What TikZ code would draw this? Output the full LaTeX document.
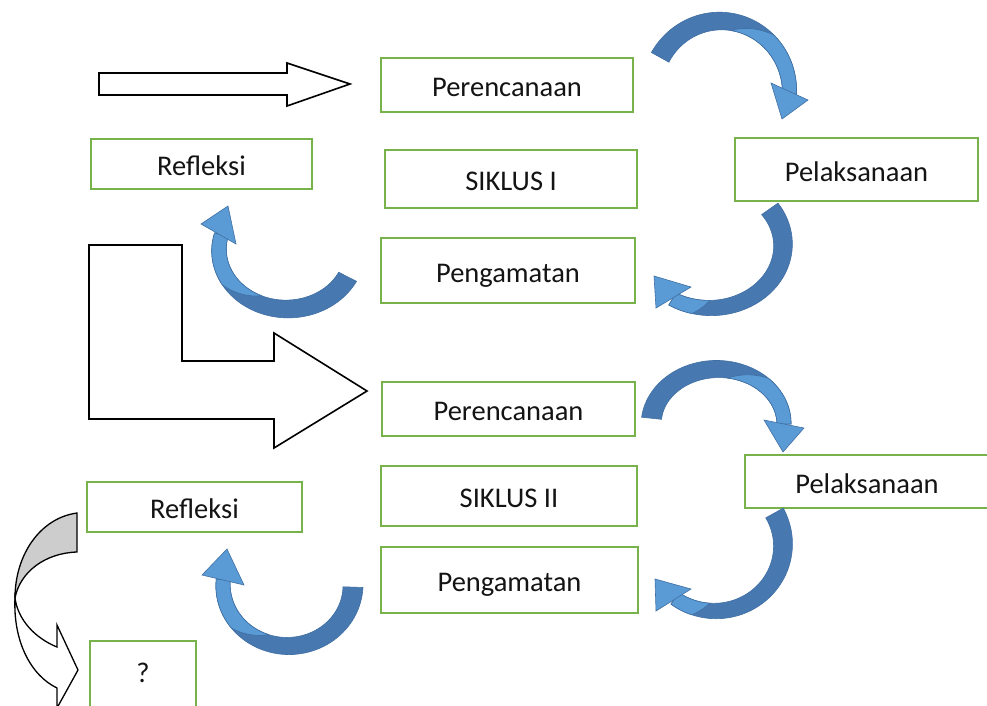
\documentclass[tikz,border=0pt]{standalone}
\usepackage{fontspec}
\setmainfont{Carlito}
\definecolor{boxgreen}{HTML}{77B24B}
\definecolor{armdark}{HTML}{4878B0}
\definecolor{armlight}{HTML}{5B9BD5}
\definecolor{armline}{HTML}{3F6FA3}
\definecolor{tailgray}{HTML}{CDCDCD}
\tikzset{
  box/.style={draw=boxgreen, line width=2.8pt, fill=white, inner sep=0pt,
    font=\fontsize{28.5}{34}\selectfont, text=black!92, text height=26pt, text depth=3pt},
  blockarrow/.style={draw=black, line width=1.6pt, fill=white, line join=miter},
  armbody/.style={fill=armdark, draw=armline, line width=0.6pt},
  armhi/.style={fill=armlight, draw=armline, line width=0.6pt},
}
% curved ribbon arrow body: cx cy rx ry t0 t1 tm
\newcommand\CAbody[7]{%
  \def\CAw{(20+(14-20)*(\x-(#5))/((#6)-(#5)))}%
  \def\CAf{min(1,2.4*(\x-(#7))/((#6)-(#7)))}%
  \path[armbody] plot[domain=#5:#6,samples=60] ({#1+(#3+0.5*\CAw)*cos(\x)},{#2+(#4+0.5*\CAw)*sin(\x)})
     -- plot[domain=#6:#5,samples=60] ({#1+(#3-0.5*\CAw)*cos(\x)},{#2+(#4-0.5*\CAw)*sin(\x)}) -- cycle;
  \path[armhi] plot[domain=#7:#6,samples=40] ({#1+(#3-0.5*\CAw+\CAf*\CAw)*cos(\x)},{#2+(#4-0.5*\CAw+\CAf*\CAw)*sin(\x)})
     -- plot[domain=#6:#7,samples=40] ({#1+(#3-0.5*\CAw)*cos(\x)},{#2+(#4-0.5*\CAw)*sin(\x)}) -- cycle;
}
\begin{document}
\begin{tikzpicture}[x=1pt,y=-1pt]
\useasboundingbox (0,0) rectangle (987,705);
\clip (0,0) rectangle (987,705);
\fill[white] (0,0) rectangle (987,705);

% boxes
\node[box, minimum width=252pt, minimum height=54pt] (p1) at (507,85) {Perencanaan};
\node[box, minimum width=221pt, minimum height=50pt] (r1) at (201.5,164) {Refleksi};
\node[box, minimum width=252pt, minimum height=58pt] (s1) at (511,179) {SIKLUS I};
\node[box, minimum width=243pt, minimum height=63pt] (l1) at (856.5,169.5) {Pelaksanaan};
\node[box, minimum width=254pt, minimum height=65pt] (g1) at (508,270.5) {Pengamatan};
\node[box, minimum width=253pt, minimum height=54pt] (p2) at (508.5,409) {Perencanaan};
\node[box, minimum width=256pt, minimum height=60pt] (s2) at (509,496) {SIKLUS II};
\node[box, minimum width=244pt, minimum height=53pt] (l2) at (867,481.5) {Pelaksanaan};
\node[box, minimum width=215pt, minimum height=50pt] (r2) at (194.5,507) {Refleksi};
\node[box, minimum width=257pt, minimum height=66pt] (g2) at (509.5,580) {Pengamatan};
\node[box, minimum width=106pt, minimum height=74pt, text depth=18pt] (q) at (143,678) {?};

% straight block arrows
\draw[blockarrow] (99,73) -- (287,73) -- (287,63) -- (350,84) -- (287,106) -- (287,95) -- (99,95) -- cycle;
\draw[blockarrow] (89,245) -- (182,245) -- (182,361) -- (274,361) -- (274,333) -- (367,391)
  -- (274,448) -- (274,419) -- (89,419) -- cycle;

% curved blue arrows
\CAbody{720.5}{91.5}{69}{70.5}{209}{362}{280}
\path[armhi] (771,83) -- (782,119) -- (808,100) -- cycle;
\CAbody{710}{245}{73}{63}{-35}{121}{90}
\path[armhi] (691,287) -- (654,276) -- (656,308) -- cycle;
\CAbody{287}{250}{68}{59}{27}{195}{115}
\path[armhi] (201,224) -- (228,206) -- (236,244) -- cycle;

\CAbody{717.6}{424}{66.4}{55}{186}{360}{280}
\path[armhi] (764,420) -- (783,452) -- (804,428) -- cycle;
\CAbody{715}{545}{68}{66}{-29}{126}{95}
\path[armhi] (691,589) -- (655,579) -- (656,611) -- cycle;
\CAbody{288}{585}{65}{61}{2}{185}{110}
\path[armhi] (202,575) -- (227,549) -- (244,585) -- cycle;

% gray/white curved arrow at bottom left
\filldraw[fill=tailgray, draw=black, line width=1.3pt]
  (77,513) .. controls (40,518) and (15,555) .. (15,598)
  .. controls (20,572) and (45,553) .. (77,552) -- cycle;
\filldraw[fill=white, draw=black, line width=1.3pt, line join=miter]
  (15,598) .. controls (13,640) and (30,675) .. (57,688) -- (57,708) -- (78,670) -- (57,625) -- (57,647)
  .. controls (35,638) and (18,620) .. (15,598) -- cycle;
\end{tikzpicture}
\end{document}
